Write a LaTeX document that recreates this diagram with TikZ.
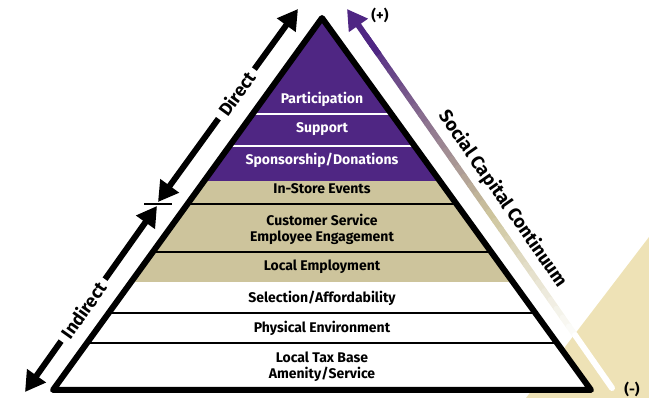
\documentclass[tikz,border=0pt]{standalone}
\usepackage{fontspec}
\setmainfont{Fira Sans}
\usetikzlibrary{arrows.meta,calc}
\definecolor{uwpurple}{HTML}{4F2683}
\definecolor{uwtan}{HTML}{CDC49C}
\definecolor{lighttan}{HTML}{EEE2B6}
\begin{document}
\begin{tikzpicture}[x=1pt, y=-1pt,
        band/.style={font=\fontsize{14}{16}\selectfont\bfseries, align=center, inner sep=0pt},
        sidearrow/.style={line width=6pt, {Triangle[length=20pt,width=22pt]}-{Triangle[length=20pt,width=22pt]}},
        sidelabel/.style={font=\fontsize{18}{20}\selectfont\bfseries, sloped, fill=white, inner xsep=6pt, inner ysep=1pt},
        sign/.style={font=\fontsize{14.5}{16}\selectfont\bfseries}]
    \useasboundingbox (0,0) rectangle (649,398);
    % tan corner behind
    \fill[lighttan] (649,237) -- (526,398) -- (649,398) -- cycle;
    % pyramid
    \coordinate (apex) at (322,18);
    \coordinate (bl) at (53,390);
    \coordinate (br) at (591,390);
    \begin{scope}
        \clip (apex) -- (bl) -- (br) -- cycle;
        \fill[white] (0,0) rectangle (649,398);
        \fill[uwpurple] (0,0) rectangle (649,181);
        \fill[uwtan] (0,181) rectangle (649,282);
        \draw[white, line width=2pt] (0,114) -- (649,114) (0,146) -- (649,146);
        \draw[line width=2pt] (0,204) -- (649,204) (0,252) -- (649,252)
            (0,313) -- (649,313) (0,343) -- (649,343);
    \end{scope}
    \draw[line width=6pt, line join=round] (apex) -- (bl) -- (br) -- cycle;
    % levels
    \node[band, white] (part) at (322,99) {Participation};
    \node[band, white] (supp) at (322,129) {Support};
    \node[band, white] (spon) at (322,160) {Sponsorship/Donations};
    \node[band] (instore) at (322,189) {In-Store Events};
    \node[band] (cust) at (322,229) {Customer Service\\Employee Engagement};
    \node[band] (locemp) at (322,267) {Local Employment};
    \node[band] (sel) at (322,298) {Selection/Affordability};
    \node[band] (phys) at (322,328) {Physical Environment};
    \node[band] (tax) at (322,367) {Local Tax Base\\Amenity/Service};
    % direct / indirect
    \coordinate (dtop) at (298,9);
    \coordinate (dbot) at (158,202);
    \coordinate (itop) at (157,206);
    \coordinate (ibot) at (25,392);
    \coordinate (tickl) at (144,204);
    \coordinate (tickr) at (172,204);
    \draw[sidearrow] (dbot) -- node[sidelabel, pos=0.56] (direct) {Direct} (dtop);
    \draw[sidearrow] (ibot) -- node[sidelabel, pos=0.44] (indirect) {Indirect} (itop);
    \draw[line width=1.5pt] (tickl) -- (tickr);
    % continuum
    \coordinate (ctip) at (347,9);
    \coordinate (cbot) at (612,388);
    \coordinate (ctop) at ($(ctip)!0.07!(cbot)$);
    \foreach \i in {0,...,39}{
        \pgfmathsetmacro\ta{\i/40}
        \pgfmathsetmacro\tb{(\i+1)/40}
        \pgfmathtruncatemacro\pa{max(0,100*(1-2*\ta))}
        \pgfmathtruncatemacro\pb{max(0,min(100,100*(1-(\ta-0.5)/0.35)))}
        \draw[line width=6pt, line cap=round, color=uwpurple!\pa!uwtan!\pb!white]
            ($(ctop)!\ta!(cbot)$) -- ($(ctop)!\tb!(cbot)$);
    }
    \draw[line width=6pt, uwpurple, -{Triangle[length=20pt,width=22pt]}] ($(ctip)!0.12!(cbot)$) -- (ctip);
    \node[font=\fontsize{18.5}{20}\selectfont\bfseries, rotate=-55] (scc) at (503,199) {Social Capital Continuum};
    \node[sign] (plus) at (380,15) {(+)};
    \node[sign] (minus) at (632,389) {(-)};
\end{tikzpicture}
\end{document}
